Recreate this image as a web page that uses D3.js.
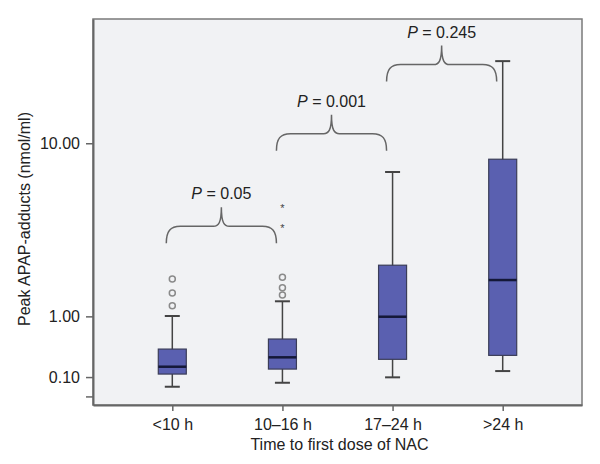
<!DOCTYPE html>
<html>
<head>
<meta charset="utf-8">
<script src="https://cdn.jsdelivr.net/npm/d3@7"></script>
<style>
  body { margin: 0; background: #fff; }
  text { font-family: "Liberation Sans", Arial, sans-serif; fill: #222; }
</style>
</head>
<body>
<svg id="chart" width="600" height="464"></svg>
<script>
// categories and box stats (nmol/ml)
var groups = ["<10 h", "10–16 h", "17–24 h", ">24 h"];
var whiskLow = [0.0, 0.04, 0.097, 0.167];
var q1 = [0.133, 0.19, 0.31, 0.362];
var medians = [0.218, 0.336, 0.993, 1.86];
var q3 = [0.449, 0.60, 2.31, 8.40];
var whiskHigh = [1.007, 1.32, 7.29, 23.7];
var outliers = [[1.22, 1.52, 1.89], [1.47, 1.65, 1.94], [], []];
var extremes = [[], [3.84, 4.86], [], []];

var yTicks = [-0.1, 0.1, 1, 10];
var pFrom = ["<10 h", "10–16 h", "17–24 h"];
var pTo = ["10–16 h", "17–24 h", ">24 h"];
var pAt = [3.11, 9.23, 19.2];
var pLabels = ["0.05", "0.001", "0.245"];

var svg = d3.select("#chart");
var plotL = 93, plotT = 19, plotR = 582, plotB = 405;

var x = d3.scalePoint().domain(groups).range([plotL, plotR]).padding(0.72);
var y = d3.scaleSymlog().constant(1).domain([-0.197, 36.4]).range([plotB, plotT]);

svg.append("rect")
	.attr("x", plotL).attr("y", plotT)
	.attr("width", plotR - plotL).attr("height", plotB - plotT)
	.style("fill", "#f1f2f4")
	.style("stroke", "#7a7a7a")
	.style("stroke-width", 1.5);

var yAxis = svg.append("g")
	.attr("transform", "translate(" + plotL + ",0)")
	.call(d3.axisLeft(y).tickValues(yTicks).tickSizeInner(7).tickSizeOuter(0).tickPadding(6)
		.tickFormat(function(d) { return d < 0 ? "" : d3.format(".2f")(d); }));

var xAxis = svg.append("g")
	.attr("transform", "translate(0," + plotB + ")")
	.call(d3.axisBottom(x).tickSizeInner(6).tickSizeOuter(0).tickPadding(8));

[yAxis, xAxis].forEach(function(a) {
	a.select(".domain").style("stroke", "#666").style("stroke-width", 2);
	a.selectAll(".tick line").style("stroke", "#666").style("stroke-width", 1.5);
	a.selectAll(".tick text").style("font-size", "16px").style("fill", "#222")
		.style("font-family", "'Liberation Sans', Arial, sans-serif");
});

svg.append("text")
	.attr("x", (plotL + plotR) / 2 + 2).attr("y", 450)
	.attr("text-anchor", "middle")
	.style("font-size", "16px")
	.text("Time to first dose of NAC");

svg.append("text")
	.attr("transform", "translate(30," + 219 + ") rotate(-90)")
	.attr("text-anchor", "middle")
	.style("font-size", "16px")
	.text("Peak APAP-adducts (nmol/ml)");

var bw = 28, cw = 15;
var boxes = svg.selectAll("g.box")
	.data(groups)
	.enter()
	.append("g")
	.classed("box", true)
	.attr("transform", function(d) { return "translate(" + x(d) + ",0)"; });

boxes.append("line")
	.attr("y1", function(d, i) { return y(whiskHigh[i]); })
	.attr("y2", function(d, i) { return y(whiskLow[i]); })
	.style("stroke", "#444").style("stroke-width", 1.5);

boxes.selectAll("line.cap")
	.data(function(d, i) { return [whiskLow[i], whiskHigh[i]]; })
	.enter()
	.append("line")
	.classed("cap", true)
	.attr("x1", -cw / 2).attr("x2", cw / 2)
	.attr("y1", function(v) { return y(v); })
	.attr("y2", function(v) { return y(v); })
	.style("stroke", "#444").style("stroke-width", 2);

boxes.append("rect")
	.attr("x", -bw / 2).attr("width", bw)
	.attr("y", function(d, i) { return y(q3[i]); })
	.attr("height", function(d, i) { return y(q1[i]) - y(q3[i]); })
	.style("fill", "#5a60b0")
	.style("stroke", "#3b3d58")
	.style("stroke-width", 1.2);

boxes.append("line")
	.attr("x1", -bw / 2).attr("x2", bw / 2)
	.attr("y1", function(d, i) { return y(medians[i]); })
	.attr("y2", function(d, i) { return y(medians[i]); })
	.style("stroke", "#141838").style("stroke-width", 2.5);

boxes.selectAll("circle")
	.data(function(d, i) { return outliers[i]; })
	.enter()
	.append("circle")
	.attr("cy", function(v) { return y(v); })
	.attr("r", 3)
	.style("fill", "none")
	.style("stroke", "#8a8a8a")
	.style("stroke-width", 1.5);

boxes.selectAll("text.star")
	.data(function(d, i) { return extremes[i]; })
	.enter()
	.append("text")
	.classed("star", true)
	.attr("y", function(v) { return y(v) + 5; })
	.attr("text-anchor", "middle")
	.style("font-size", "11px")
	.style("fill", "#444")
	.text("*");

// curly braces with P values
pLabels.forEach(function(lab, i) {
	var x1 = x(pFrom[i]) - 6, x2 = x(pTo[i]) - 6, xm = (x1 + x2) / 2;
	var y0 = y(pAt[i]), yh = y0 - 17, yp = y0 - 36;
	var p = d3.path();
	p.moveTo(x1, y0);
	p.bezierCurveTo(x1, y0 - 12, x1 + 4, yh, x1 + 14, yh);
	p.lineTo(xm - 8, yh);
	p.bezierCurveTo(xm - 3, yh, xm, yh - 3, xm, yp);
	p.bezierCurveTo(xm, yh - 3, xm + 3, yh, xm + 8, yh);
	p.lineTo(x2 - 14, yh);
	p.bezierCurveTo(x2 - 4, yh, x2, y0 - 12, x2, y0);
	svg.append("path")
		.attr("d", p.toString())
		.style("fill", "none")
		.style("stroke", "#666")
		.style("stroke-width", 1.5);

	var t = svg.append("text")
		.attr("x", xm).attr("y", yp - 8)
		.attr("text-anchor", "middle")
		.style("font-size", "16px");
	t.append("tspan").style("font-style", "italic").text("P");
	t.append("tspan").text(" = " + lab);
});
</script>
</body>
</html>
